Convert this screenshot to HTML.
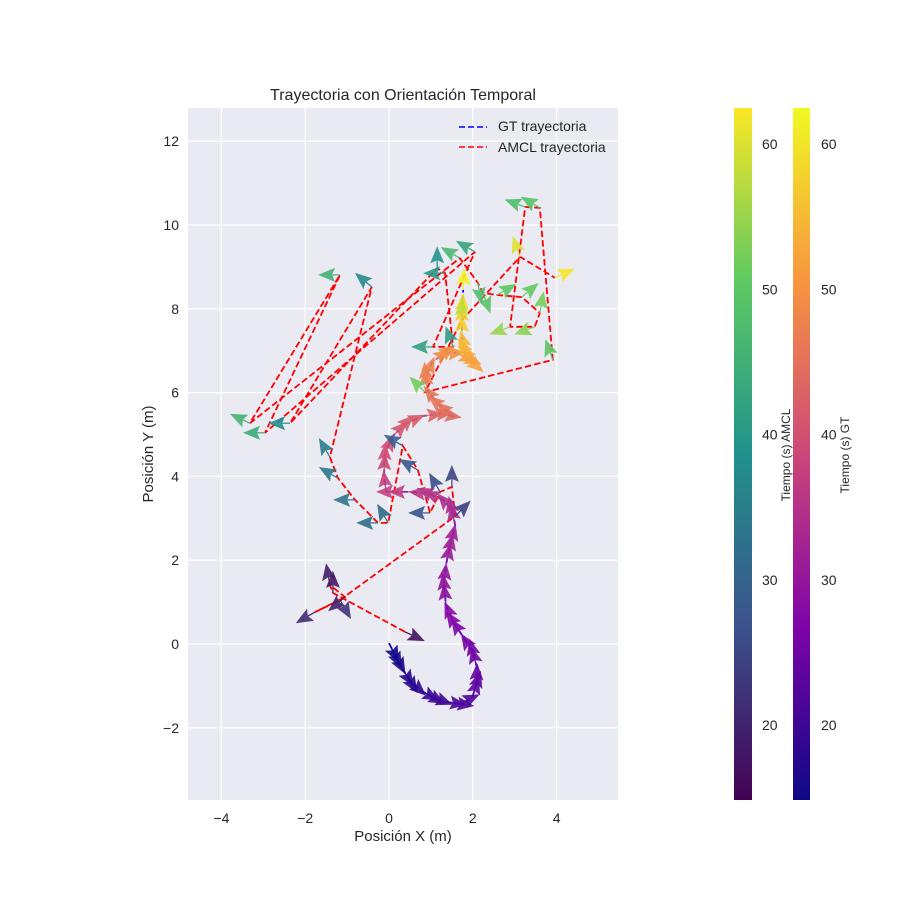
<!DOCTYPE html>
<html><head><meta charset="utf-8"><style>
body{margin:0;background:#fff}
svg text{font-family:"Liberation Sans",sans-serif;fill:#262626}
</style></head><body>
<svg id="s" width="900" height="900" viewBox="0 0 900 900">
<defs>
<linearGradient id="vir" x1="0" y1="1" x2="0" y2="0">
<stop offset="0" stop-color="#440154"/><stop offset="0.25" stop-color="#3b528b"/><stop offset="0.5" stop-color="#21918c"/><stop offset="0.75" stop-color="#5ec962"/><stop offset="1" stop-color="#fde725"/></linearGradient>
<linearGradient id="pla" x1="0" y1="1" x2="0" y2="0">
<stop offset="0" stop-color="#0d0887"/><stop offset="0.25" stop-color="#7e03a8"/><stop offset="0.5" stop-color="#cc4778"/><stop offset="0.75" stop-color="#f89540"/><stop offset="1" stop-color="#f0f921"/></linearGradient>
</defs>
<rect x="188" y="108" width="430" height="692" fill="#eaeaf2"/>
<g id="grid"></g><g id="lines"></g><g id="arrows"></g><g id="ticks"></g>
<text x="403" y="100" font-size="16" text-anchor="middle">Trayectoria con Orientación Temporal</text>
<text x="403" y="841" font-size="15" text-anchor="middle">Posición X (m)</text>
<text transform="translate(153,454) rotate(-90)" font-size="15" text-anchor="middle">Posición Y (m)</text>
<g>
<line x1="459" y1="127" x2="487" y2="127" stroke="#0000ff" stroke-width="1.6" stroke-dasharray="6,3"/>
<text x="498" y="131" font-size="14">GT trayectoria</text>
<line x1="459" y1="147" x2="487" y2="147" stroke="#ff0000" stroke-width="1.6" stroke-dasharray="6,3"/>
<text x="498" y="152" font-size="14">AMCL trayectoria</text>
</g>
<rect x="734" y="108" width="18" height="692" fill="url(#vir)"/>
<rect x="793" y="108" width="17" height="692" fill="url(#pla)"/>
<text transform="translate(790,455) rotate(-90)" font-size="12" text-anchor="middle">Tiempo (s) AMCL</text>
<text transform="translate(849,455) rotate(-90)" font-size="12" text-anchor="middle">Tiempo (s) GT</text>
<g id="cbt"></g>
</svg>
<script>
const xTicks=[-4,-2,0,2,4];
const yTicks=[-2,0,2,4,6,8,10,12];
const cbTicks=[20,30,40,50,60];
const gtX=[0,0.14,0.31,0.50,0.74,1.03,1.34,1.69,1.98,2.08,2.10,2.00,1.77,1.53,1.36,1.31,1.36,1.46,1.58,1.50,1.29,0.98,0.50,-0.07,-0.12,-0.10,0.07,0.38,0.79,1.22,1.53,1.15,0.91,0.88,1.03,1.29,1.60,1.86,2.00,1.84,1.74,1.74,1.77];
const gtY=[0.02,-0.26,-0.57,-0.88,-1.10,-1.26,-1.38,-1.43,-1.29,-0.98,-0.57,-0.19,0.17,0.53,0.93,1.41,1.89,2.36,2.84,3.20,3.44,3.58,3.63,3.63,4.03,4.51,4.94,5.25,5.44,5.49,5.44,5.75,6.06,6.37,6.73,6.92,6.95,6.83,6.71,6.97,7.33,7.85,8.45];
const gtT=[15,16,17,18,19,20,21,22,23,24,25,26,27,28,29,30,31,32,33,34,35,36,37,38,39,40,41,42,43,44,45,46,47,48,49,50,51,52,53,55,57,59,62];
const amX=[0.38,-1.34,-1.41,-1.05,-1.77,-1.17,1.58,1.50,1.22,0.98,0.69,0.33,-0.02,-0.26,-0.81,-1.22,-1.41,-0.41,-2.36,1.15,1.34,1.53,1.05,2.05,-2.96,-1.17,-3.32,1.69,2.12,2.24,2.58,3.17,3.60,3.48,2.89,3.25,3.60,3.91,0.86,1.74,3.13,3.96];
const amY=[0.29,1.22,1.41,1.12,0.76,1.05,3.05,3.75,3.63,3.13,4.15,4.73,2.89,2.89,3.44,3.96,4.46,8.52,5.27,8.97,8.85,7.09,7.09,9.36,5.04,8.81,5.27,9.21,8.62,8.38,8.33,8.28,7.90,7.57,7.57,10.43,10.41,6.78,6.01,7.73,9.24,8.74];
const amT=[17,18,19,20,21,22,24,25,26,27,28,29,31,32,33,34,35,37,38,39,40,41,42,43,44,45,46,47,48,49,50,51,52,54,55,48,49,50,52,58,60,62];
const amA=[-25,90,100,-140,-150,-60,45,90,120,180,150,150,120,180,180,150,120,140,180,90,180,110,180,150,180,180,155,150,-80,-70,30,40,80,-160,200,160,150,110,135,90,110,25];
const NS="http://www.w3.org/2000/svg";
const X=v=>389+v*41.9, Y=v=>644-v*41.9, CB=t=>725-(t-20)*14.52;
function mk(tag,at,par){const e=document.createElementNS(NS,tag);for(const k in at)e.setAttribute(k,at[k]);document.getElementById(par).appendChild(e);return e;}
function cmap(stops,t){t=Math.max(0,Math.min(1,(t-14.8)/(62.5-14.8)));const n=stops.length-1,i=Math.min(n-1,Math.floor(t*n)),f=t*n-i;const a=stops[i],b=stops[i+1];return 'rgb('+[0,1,2].map(k=>Math.round(a[k]+(b[k]-a[k])*f)).join(',')+')';}
const VIR=[[68,1,84],[59,82,139],[33,145,140],[94,201,98],[253,231,37]];
const PLA=[[13,8,135],[126,3,168],[204,71,120],[248,149,64],[240,249,33]];
xTicks.forEach(v=>{let e=mk('line',{x1:X(v),x2:X(v),y1:108,y2:800,stroke:'#fff','stroke-width':1.2},'grid');
 let t=mk('text',{x:X(v),y:823,'font-size':14,'text-anchor':'middle'},'ticks');t.textContent=v<0?'\u2212'+(-v):v;});
yTicks.forEach(v=>{let e=mk('line',{x1:188,x2:618,y1:Y(v),y2:Y(v),stroke:'#fff','stroke-width':1.2},'grid');
 let t=mk('text',{x:179,y:Y(v)+5,'font-size':14,'text-anchor':'end'},'ticks');t.textContent=v<0?'\u2212'+(-v):v;});
cbTicks.forEach(v=>{[762,821].forEach(x=>{let t=mk('text',{x:x,y:CB(v)+5,'font-size':14},'cbt');t.textContent=v;});});
function path(xs,ys,col,name){let d=xs.map((v,i)=>(i?'L':'M')+X(v).toFixed(1)+','+Y(ys[i]).toFixed(1)).join('');let e=mk('path',{d:d,fill:'none',stroke:col,'stroke-width':1.8,'stroke-dasharray':'6.5,3'},'lines');}
path(gtX,gtY,'#0000ff','gt-trajectory');
path(amX,amY,'#ff0000','amcl-trajectory');
function arrow(px,py,ang,col,name){const g=mk('g',{transform:'translate('+px.toFixed(1)+','+py.toFixed(1)+') rotate('+(-ang)+')'},'arrows');
 const s=document.createElementNS(NS,'line');s.setAttribute('x1',0);s.setAttribute('y1',0);s.setAttribute('x2',8);s.setAttribute('y2',0);s.setAttribute('stroke',col);s.setAttribute('stroke-width',1.2);g.appendChild(s);
 const p=document.createElementNS(NS,'polygon');p.setAttribute('points','5,-7 22,0 5,7 8,0');p.setAttribute('fill',col);p.setAttribute('opacity',0.9);g.appendChild(p);}
for(let i=0;i<gtX.length;i++){const j=Math.min(i+1,gtX.length-1),k=j===i?i-1:i;
 const dx=X(gtX[j])-X(gtX[k]),dy=Y(gtY[j])-Y(gtY[k]);const a=-Math.atan2(dy,dx)*180/Math.PI;
 arrow(X(gtX[i]),Y(gtY[i]),a,cmap(PLA,gtT[i]),'gt-orientation-arrow');
 if(i<gtX.length-1&&i%2===0)arrow((X(gtX[i])+X(gtX[i+1]))/2,(Y(gtY[i])+Y(gtY[i+1]))/2,a,cmap(PLA,(gtT[i]+gtT[i+1])/2),'gt-orientation-arrow');}
for(let i=0;i<amX.length;i++)arrow(X(amX[i]),Y(amY[i]),amA[i],cmap(VIR,amT[i]),'amcl-orientation-arrow');
</script>
</body></html>
